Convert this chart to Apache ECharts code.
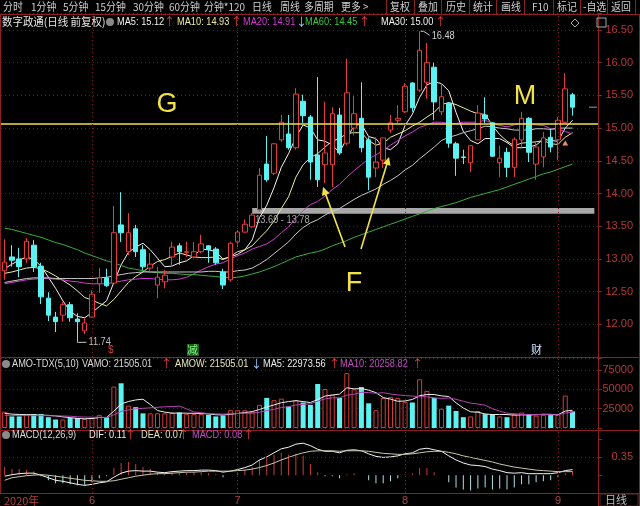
<!DOCTYPE html>
<html><head><meta charset="utf-8">
<script src="https://cdn.jsdelivr.net/npm/echarts@6/dist/echarts.min.js"></script>
<style>html,body{margin:0;padding:0;background:#000;}#c{width:640px;height:506px;}</style>
</head><body><div id="c"></div>
<script>
// ---------- data ----------
const dates = ['2020-05-14','2020-05-15','2020-05-18','2020-05-19','2020-05-20','2020-05-21','2020-05-22','2020-05-25','2020-05-26','2020-05-27','2020-05-28','2020-05-29',
'2020-06-01','2020-06-02','2020-06-03','2020-06-04','2020-06-05','2020-06-08','2020-06-09','2020-06-10','2020-06-11','2020-06-12','2020-06-15','2020-06-16','2020-06-17','2020-06-18','2020-06-19','2020-06-22','2020-06-23','2020-06-24','2020-06-29','2020-06-30',
'2020-07-01','2020-07-02','2020-07-03','2020-07-06','2020-07-07','2020-07-08','2020-07-09','2020-07-10','2020-07-13','2020-07-14','2020-07-15','2020-07-16','2020-07-17','2020-07-20','2020-07-21','2020-07-22','2020-07-23','2020-07-24','2020-07-27','2020-07-28','2020-07-29','2020-07-30','2020-07-31',
'2020-08-03','2020-08-04','2020-08-05','2020-08-06','2020-08-07','2020-08-10','2020-08-11','2020-08-12','2020-08-13','2020-08-14','2020-08-17','2020-08-18','2020-08-19','2020-08-20','2020-08-21','2020-08-24','2020-08-25','2020-08-26','2020-08-27','2020-08-28','2020-08-31',
'2020-09-01','2020-09-02','2020-09-03'];
const padCats = ['p1','p2','p3'];
const opens = [12.82,13.03,13.00,13.00,13.21,12.89,12.40,12.11,12.14,12.30,12.08,11.90,12.11,12.62,12.71,12.63,13.52,13.11,13.46,13.14,12.86,12.60,12.65,13.03,13.20,13.10,13.03,13.11,13.20,13.15,12.80,12.68,13.26,13.41,13.49,13.75,14.45,14.31,14.82,14.91,14.70,15.41,15.17,14.59,14.44,14.44,15.20,14.77,15.00,15.15,14.82,14.39,14.51,14.97,15.12,15.25,15.69,15.58,15.70,15.93,15.25,15.38,14.76,14.56,14.47,14.82,15.20,15.08,14.47,14.63,14.40,14.82,15.15,14.45,14.56,14.86,14.82,15.09,15.51];
const closes = [12.95,12.98,12.88,13.27,12.88,12.42,12.14,12.04,12.30,12.10,12.04,12.02,12.46,12.71,12.59,13.40,13.40,13.40,13.11,12.88,12.92,12.72,12.75,13.18,13.11,13.11,13.11,13.23,13.14,12.94,12.60,13.24,13.41,13.53,13.67,14.28,14.21,14.76,15.09,14.70,15.52,15.19,14.48,14.21,14.62,15.22,14.62,15.54,15.22,14.70,14.25,14.48,14.85,15.08,15.15,15.64,15.31,16.19,16.00,15.40,15.48,14.77,14.54,14.55,14.73,15.23,15.14,14.57,14.54,14.40,14.83,15.15,14.63,14.71,14.85,14.71,15.12,15.60,15.32];
const lows = [12.68,12.88,12.72,12.94,12.80,12.31,12.05,11.88,12.04,12.04,11.74,11.85,12.10,12.48,12.57,12.63,13.26,13.06,13.03,12.83,12.78,12.40,12.55,12.88,12.91,13.03,13.01,13.09,12.94,12.91,12.54,12.65,13.18,13.40,13.47,13.72,14.18,14.28,14.79,14.67,14.67,15.08,14.21,14.10,14.16,14.10,14.59,14.74,14.89,14.63,14.05,14.25,14.39,14.93,15.08,15.23,15.25,15.55,15.45,15.12,15.20,14.70,14.27,14.45,14.33,14.82,15.08,14.56,14.25,14.25,14.25,14.71,14.48,14.21,14.40,14.63,14.51,15.08,15.19];
const highs = [13.30,13.21,13.17,13.32,13.29,12.94,12.49,12.19,12.34,12.34,12.17,12.10,12.52,12.86,12.85,13.81,14.02,13.70,13.52,13.21,13.09,12.88,12.83,13.26,13.24,13.26,13.26,13.37,13.21,13.18,12.85,13.26,13.44,13.60,13.70,14.39,14.88,14.77,15.20,15.20,15.61,15.51,15.20,15.78,15.40,15.32,15.31,16.06,15.49,15.70,14.86,14.86,14.85,15.20,15.35,15.69,15.70,16.48,16.30,16.00,15.69,15.40,14.79,14.67,14.74,15.35,15.47,15.09,14.73,14.70,14.86,15.25,15.17,14.79,14.94,14.99,15.17,15.84,15.54];
const ma5 = [12.85,12.92,12.98,13.03,12.99,12.89,12.72,12.55,12.36,12.20,12.12,12.10,12.18,12.27,12.36,12.64,12.91,13.10,13.18,13.24,13.14,13.01,12.88,12.89,12.94,12.97,13.05,13.15,13.14,13.11,13.00,13.03,13.07,13.14,13.29,13.63,13.82,14.09,14.40,14.61,14.86,15.05,15.00,14.82,14.80,14.74,14.63,14.84,15.04,15.06,14.87,14.84,14.70,14.67,14.76,15.04,15.21,15.47,15.66,15.71,15.68,15.57,15.24,14.95,14.81,14.76,14.84,14.84,14.84,14.78,14.70,14.70,14.71,14.74,14.83,14.81,14.80,15.00,15.12];
const ma10 = [12.78,12.80,12.83,12.86,12.87,12.85,12.80,12.74,12.67,12.60,12.51,12.41,12.37,12.32,12.28,12.38,12.51,12.64,12.73,12.80,12.89,12.96,12.99,13.04,13.09,13.06,13.03,13.02,13.02,13.03,12.99,13.04,13.11,13.14,13.20,13.32,13.43,13.58,13.77,13.95,14.25,14.44,14.55,14.61,14.71,14.80,14.84,14.92,14.93,14.93,14.81,14.74,14.77,14.86,14.91,14.96,15.03,15.09,15.17,15.24,15.36,15.39,15.36,15.31,15.26,15.22,15.21,15.04,14.90,14.80,14.73,14.77,14.78,14.79,14.81,14.76,14.75,14.86,14.93];
const ma20 = [12.62,12.64,12.66,12.68,12.69,12.70,12.70,12.69,12.68,12.66,12.65,12.63,12.62,12.62,12.62,12.64,12.66,12.68,12.69,12.70,12.70,12.69,12.68,12.68,12.69,12.72,12.77,12.83,12.88,12.92,12.94,13.00,13.05,13.09,13.15,13.19,13.23,13.30,13.40,13.49,13.62,13.74,13.83,13.88,13.96,14.06,14.14,14.25,14.35,14.44,14.53,14.59,14.66,14.74,14.81,14.88,14.94,15.01,15.05,15.09,15.09,15.07,15.07,15.09,15.09,15.09,15.12,15.07,15.04,15.02,15.05,15.08,15.07,15.05,15.04,14.99,14.98,14.95,14.91];
const ma30 = [12.64,12.66,12.68,12.70,12.71,12.71,12.71,12.70,12.70,12.70,12.70,12.70,12.70,12.71,12.72,12.74,12.76,12.78,12.79,12.80,12.80,12.80,12.80,12.80,12.80,12.80,12.80,12.80,12.81,12.81,12.80,12.80,12.82,12.83,12.86,12.92,12.99,13.08,13.17,13.26,13.38,13.48,13.55,13.60,13.67,13.73,13.77,13.84,13.91,13.97,14.02,14.07,14.14,14.20,14.27,14.36,14.43,14.53,14.62,14.71,14.81,14.86,14.89,14.93,14.96,14.99,15.03,15.02,15.00,14.99,14.97,14.97,14.97,14.99,14.99,14.98,15.00,15.00,15.00];
const ma60 = [13.47,13.45,13.42,13.39,13.36,13.33,13.29,13.25,13.22,13.18,13.14,13.09,13.05,13.01,12.97,12.94,12.90,12.86,12.84,12.82,12.80,12.79,12.78,12.78,12.77,12.76,12.76,12.75,12.74,12.73,12.72,12.71,12.72,12.74,12.77,12.80,12.84,12.88,12.93,12.98,13.03,13.06,13.09,13.11,13.15,13.20,13.24,13.28,13.33,13.37,13.41,13.45,13.49,13.53,13.57,13.61,13.65,13.69,13.73,13.77,13.80,13.83,13.86,13.90,13.94,13.97,14.00,14.03,14.06,14.10,14.14,14.18,14.22,14.26,14.30,14.33,14.37,14.41,14.45];
const amo = [21000,15000,15000,17000,18000,18000,14000,11000,11000,13000,13000,11500,13000,17000,14000,53600,57900,29000,27000,19000,19000,19000,19000,20000,20000,18000,18000,18000,17000,15000,16000,23000,23000,23000,21000,30000,39000,36000,38000,28000,36000,33000,30000,57000,50500,43000,39000,71000,50000,53000,32000,23000,39000,40000,39000,34000,33000,63000,48000,39000,25000,29000,22000,14000,15000,22000,18000,18000,15000,14000,18000,20000,18000,16000,17000,17500,17000,42000,21505.01];
const amoMa5 = [19000,18000,17500,17300,17200,16600,16400,15600,14400,13400,12400,11900,12300,13500,13700,21800,31100,34300,36300,37300,30400,22600,20600,19200,19400,19200,19000,18800,18200,17200,16800,17800,18800,20000,21200,24000,27200,29800,32800,34200,35400,34200,33000,36800,41300,42700,43900,52100,50700,51200,49000,45800,39400,37400,34600,35000,37000,41800,43400,43400,41600,40800,32600,25800,21000,20400,18200,17400,17600,17400,16600,17000,17000,17200,17800,17700,17100,21900,22973.56];
const amoMa10 = [16500,16300,16100,16000,16000,16000,15900,15800,15600,15300,14500,14150,13950,13950,13550,17100,21500,23300,24900,25500,26100,26850,27450,27750,28350,24800,20800,19700,18700,18300,18000,18400,18800,19100,19200,20400,22500,24300,26400,27700,29700,30700,31400,34800,37750,39050,39050,42550,43750,46250,45850,44850,45750,44050,42900,42000,41400,40600,40400,39000,38300,38900,37200,34600,32200,31000,29500,25000,21700,19200,18500,17600,17200,17400,17600,17150,17050,19450,20258.82];
const dif = [-0.02,0.01,0.03,0.04,0.04,0.00,-0.05,-0.10,-0.12,-0.15,-0.18,-0.20,-0.18,-0.15,-0.13,-0.04,0.04,0.08,0.09,0.08,0.08,0.06,0.05,0.07,0.08,0.09,0.09,0.10,0.10,0.09,0.06,0.08,0.11,0.15,0.20,0.30,0.36,0.44,0.52,0.55,0.61,0.63,0.58,0.51,0.47,0.47,0.44,0.49,0.50,0.48,0.42,0.37,0.35,0.36,0.38,0.42,0.44,0.51,0.53,0.50,0.47,0.38,0.30,0.24,0.20,0.19,0.17,0.12,0.09,0.05,0.04,0.05,0.03,0.03,0.03,0.03,0.05,0.09,0.11];
const dea = [-0.10,-0.05,-0.03,-0.01,0.00,0.01,0.00,-0.02,-0.04,-0.06,-0.08,-0.10,-0.11,-0.12,-0.12,-0.11,-0.08,-0.05,-0.02,0.00,0.02,0.03,0.03,0.04,0.05,0.06,0.06,0.07,0.08,0.08,0.08,0.08,0.09,0.10,0.12,0.15,0.19,0.24,0.30,0.35,0.40,0.44,0.47,0.48,0.48,0.48,0.47,0.48,0.48,0.48,0.47,0.45,0.43,0.42,0.41,0.41,0.42,0.44,0.46,0.47,0.47,0.45,0.42,0.38,0.35,0.32,0.29,0.26,0.22,0.19,0.16,0.14,0.12,0.10,0.09,0.08,0.07,0.07,0.07];
const macd = [0.16,0.12,0.12,0.10,0.08,-0.02,-0.10,-0.16,-0.16,-0.18,-0.20,-0.20,-0.14,-0.06,-0.02,0.14,0.24,0.26,0.22,0.16,0.12,0.06,0.04,0.06,0.06,0.06,0.06,0.06,0.04,0.02,-0.04,0.00,0.04,0.10,0.16,0.30,0.34,0.40,0.44,0.40,0.42,0.38,0.22,0.06,-0.02,-0.02,-0.06,0.02,0.04,0.00,-0.10,-0.16,-0.16,-0.12,-0.06,0.02,0.04,0.14,0.14,0.06,0.00,-0.14,-0.24,-0.28,-0.30,-0.26,-0.24,-0.28,-0.26,-0.28,-0.24,-0.18,-0.18,-0.14,-0.12,-0.10,-0.04,0.04,0.08];
const priceTicks = [12.0,12.5,13.0,13.5,14.0,14.5,15.0,15.5,16.0,16.5];
const amoTicks = [25000,50000,75000];
const macdTicks = [0.35];
const hLine = 15.06;           // yellow level line
const band = [13.69, 13.78];   // gray support band
const bandStartIdx = 34;

// ---------- styles ----------
const RED = '#e63c3c', CYAN = '#5cf2f2', GRID = '#641c1c', AXIS = '#8c2020', LBL = '#b83838';
const NUMF = '"Liberation Sans",Arial,sans-serif';
const CJKF = '"Noto Sans CJK SC",sans-serif';

const cats = dates.concat(padCats);
const monthStart = [];
dates.forEach((d,i)=>{ if(i===0 || d.slice(5,7)!==dates[i-1].slice(5,7)) monthStart.push(i); });
const isUp = i => closes[i] >= opens[i];
const vLines = monthStart.slice(1).map(i=>({xAxis:i, lineStyle:{color:'#6e2020', type:[1,3], width:1}}));

const GL = 1, GR = 42;
const grids = [
  {left:GL, right:GR, top:13.65, height:343.35},
  {left:GL, right:GR, top:358.5, height:69.5},
  {left:GL, right:GR, top:430.7, height:63}
];
function xAx(gi, showLabel){
  return {type:'category', gridIndex:gi, data:cats, boundaryGap:true,
    axisLine:{show:false}, axisTick:{show:false},
    axisLabel:{show:showLabel, interval:0, margin:2, color:'#a84848', fontSize:11, fontFamily:NUMF,
      formatter:(v,i)=>{ if(i===0) return '{f|2020年}'; if(monthStart.indexOf(i)>0) return String(+dates[i].slice(5,7)); return ''; },
      rich:{f:{fontSize:11, color:'#b04040', fontFamily:CJKF, padding:[0,0,0,34]}}},
    splitLine:{show:false}
  };
}
function yAx(gi, min, max, interval, fmt, showSplit){
  return {type:'value', gridIndex:gi, position:'right', min, max, interval, scale:false,
    axisLine:{show:true, lineStyle:{color:AXIS}},
    axisTick:{show:true, length:4, lineStyle:{color:AXIS}},
    axisLabel:{inside:false, margin:35, align:'right', color:LBL, fontSize:11, fontFamily:NUMF, formatter:fmt},
    splitLine:{show:showSplit, lineStyle:{color:GRID, type:[1,3]}}
  };
}
const priceFmt = v => priceTicks.some(t=>Math.abs(t-v)<1e-6) ? v.toFixed(2) : '';
const amoFmt = v => amoTicks.indexOf(v)>=0 ? String(v) : '';
const macdFmt = v => macdTicks.some(t=>Math.abs(t-v)<1e-6) ? v.toFixed(2) : '';

const line = (name, data, color, xi, yi, w) => ({name, type:'line', data, xAxisIndex:xi, yAxisIndex:yi,
  showSymbol:false, symbol:'none', lineStyle:{color, width:w||1}, silent:true, z:3});

const option = {
  backgroundColor:'#000', animation:false,
  grid:grids,
  xAxis:[xAx(0,false), xAx(1,false), xAx(2,true)],
  yAxis:[yAx(0,11.5,16.75,0.5,priceFmt,true), yAx(1,0,90000,25000,amoFmt,true), yAx(2,-0.35,0.875,0.35,macdFmt,false)],
  series:[
    {name:'K', type:'candlestick', xAxisIndex:0, yAxisIndex:0, barWidth:5, z:4,
     data: dates.map((d,i)=>[opens[i],closes[i],lows[i],highs[i]]),
     itemStyle:{color:'#000', color0:CYAN, borderColor:RED, borderColor0:CYAN, borderWidth:1},
     markLine:{silent:true, symbol:'none', label:{show:false}, lineStyle:{color:'#f0e048', width:1.6, type:'solid'},
       data:[{yAxis:hLine}].concat(vLines)},
     markArea:{silent:true, itemStyle:{color:'#a8a8a8'}, label:{show:false},
       data:[[{xAxis:bandStartIdx, yAxis:band[1]},{xAxis:cats.length-1, yAxis:band[0]}]]}
    },
    line('MA5', ma5, '#f4f4f4', 0, 0),
    line('MA10', ma10, '#ecec9c', 0, 0),
    line('MA20', ma20, '#d23cd2', 0, 0),
    line('MA60', ma60, '#3cae3c', 0, 0),
    line('MA30', ma30, '#c8c8c8', 0, 0),
    {name:'AMO', type:'bar', xAxisIndex:1, yAxisIndex:1, barWidth:5,
     data: amo.map((v,i)=>({value:v, itemStyle: isUp(i) ? {color:'#000', borderColor:'#d23c3c', borderWidth:1} : {color:CYAN, borderColor:CYAN, borderWidth:0}})),
     markLine:{silent:true, symbol:'none', label:{show:false}, data:vLines}},
    line('AMO MA5', amoMa5, '#ececec', 1, 1),
    line('AMO MA10', amoMa10, '#b444b4', 1, 1),
    {name:'MACD', type:'bar', xAxisIndex:2, yAxisIndex:2, barWidth:1,
     data: macd.map(v=>({value:v, itemStyle:{color: v>=0 ? '#c83c3c' : '#a8e2e2'}})),
     markLine:{silent:true, symbol:'none', label:{show:false}, data:vLines}},
    line('DIF', dif, '#f4f4f4', 2, 2),
    Object.assign(line('DEA', dea, '#c8c8a8', 2, 2), {markLine:{silent:true, symbol:'none', label:{show:false},
      lineStyle:{color:GRID, type:[1,3], width:1}, data:[{yAxis:macdTicks[0]}]}})
  ]
};
const chart = echarts.init(document.getElementById('c'), null, {width:640, height:506});
chart.setOption(option);

// ---------- decorations / text ----------
const G = [];
const txt = (x,y,text,color,size,font,sx) => G.push({type:'text', x, y, silent:true, z:20, scaleX:sx||1,
  style:{text, fill:color, fontSize:size||11, fontFamily:font||NUMF, textVerticalAlign:'middle', textAlign:'left'}});
const big = (x,y,text,color) => G.push({type:'text', x, y, silent:true, z:20,
  style:{text, fill:color, fontSize:27, fontFamily:'"Liberation Sans",Arial,sans-serif', textVerticalAlign:'middle', textAlign:'center'}});
const ln = (x1,y1,x2,y2,color,w) => G.push({type:'line', silent:true, z:15, shape:{x1,y1,x2,y2}, style:{stroke:color, lineWidth:w||1}});
const NS = 0.84;   // narrow numeric legend text
const CS = 0.9;    // narrow CJK toolbar text

// frame
ln(0,14.5,640,14.5,AXIS); ln(0,357.5,640,357.5,AXIS); ln(0,430.5,640,430.5,AXIS); ln(0,493.5,640,493.5,AXIS);
ln(0.5,14,0.5,494,AXIS); ln(598.5,14,598.5,506,AXIS); ln(639.5,14,639.5,506,AXIS);
// toolbar
const tb = [['分时',3],['1分钟',31],['5分钟',63],['15分钟',95],['30分钟',133],['60分钟',169],['分钟*120',204],['日线',252],['周线',280],['多周期',304],['更多 >',341]];
tb.forEach(([t,x])=>txt(x,7,t,'#cfcfcf',11,CJKF,CS));
const tb2 = [['复权',390],['叠加',418],['历史',446],['统计',473],['画线',501],['F10',532],['标记',557],['-自选',583],['返回',611]];
tb2.forEach(([t,x])=>txt(x,7,t,'#cfcfcf',11,CJKF,CS));
[386,414,441,469,496,524,553,580,607,635].forEach(x=>ln(x+0.5,0,x+0.5,14,AXIS));
// main legend
txt(2,22,'数字政通(日线 前复权)','#e6e6e6',11,CJKF,0.95);
G.push({type:'circle', silent:true, z:20, shape:{cx:110,cy:22,r:4}, style:{fill:'#8a8a8a'}});
const leg = [['MA5: 15.12',117,'#f0f0f0','↑',164,RED],['MA10: 14.93',177,'#ecec9c','↑',231,RED],['MA20: 14.91',243,'#d23cd2','↓',296,'#9ccfff'],
             ['MA60: 14.45',305,'#3cc83c','↑',359,RED],['MA30: 15.00',381,'#f0f0f0','↑',435,RED]];
leg.forEach(([t,x,c,a,ax,ac])=>{txt(x,22,t,c,11,NUMF,NS); txt(ax,22,a,ac,11,CJKF);});
G.push({type:'polygon', silent:true, z:20, shape:{points:[[575,19],[579,23],[575,27],[571,23]]}, style:{fill:'none', stroke:'#aaa'}});
G.push({type:'rect', silent:true, z:20, shape:{x:597,y:18,width:9,height:9}, style:{fill:'none', stroke:'#aaa'}});
// volume legend
G.push({type:'circle', silent:true, z:20, shape:{cx:6,cy:364,r:4}, style:{fill:'#8a8a8a'}});
txt(12,364,'AMO-TDX(5,10)','#dadada',11,NUMF,NS);
txt(82,364,'VAMO: 21505.01','#dadada',11,NUMF,NS); txt(161,364,'↑',RED,11,CJKF);
txt(175,364,'AMOW: 21505.01','#e6e6b4',11,NUMF,NS); txt(251,364,'↓','#9ccfff',11,CJKF);
txt(263,364,'MA5: 22973.56','#ececec',11,NUMF,NS); txt(329,364,'↑',RED,11,CJKF);
txt(340,364,'MA10: 20258.82','#c050c0',11,NUMF,NS); txt(412,364,'↑',RED,11,CJKF);
// macd legend
G.push({type:'circle', silent:true, z:20, shape:{cx:6,cy:435,r:4}, style:{fill:'#8a8a8a'}});
txt(12,435,'MACD(12,26,9)','#dadada',11,NUMF,NS);
txt(89,435,'DIF: 0.11','#ececec',11,NUMF,NS); txt(125,435,'↑',RED,11,CJKF);
txt(141,435,'DEA: 0.07','#e6e6b4',11,NUMF,NS); txt(178,435,'↑',RED,11,CJKF);
txt(192,435,'MACD: 0.08','#c050c0',11,NUMF,NS); txt(243,435,'↑',RED,11,CJKF);
// bottom right
G.push({type:'rect', silent:true, z:20, shape:{x:600,y:494,width:38,height:12}, style:{fill:'none', stroke:'#5a2a2a'}});
txt(605,500,'日线','#bdbdbd',11,CJKF);
// data-anchored labels
const iHi = highs.indexOf(Math.max(...highs)), iLo = lows.indexOf(Math.min(...lows));
const pHi = chart.convertToPixel({gridIndex:0}, [iHi, highs[iHi]]);
const pLo = chart.convertToPixel({gridIndex:0}, [iLo, lows[iLo]]);
G.push({type:'polyline', silent:true, z:20, shape:{points:[[pHi[0]+1,pHi[1]],[pHi[0]+4,pHi[1]],[pHi[0]+10,pHi[1]+4]]}, style:{stroke:'#c8c8c8', fill:'none'}});
txt(pHi[0]+12, pHi[1]+5, highs[iHi].toFixed(2), '#cfcfcf', 11, NUMF, NS);
G.push({type:'polyline', silent:true, z:20, shape:{points:[[pLo[0],pLo[1]],[pLo[0],pLo[1]+1],[pLo[0]+9,pLo[1]+1]]}, style:{stroke:'#c8c8c8', fill:'none'}});
txt(pLo[0]+11, pLo[1]+1, lows[iLo].toFixed(2), '#bdbdbd', 11, NUMF, NS);
const pB = chart.convertToPixel({gridIndex:0}, [bandStartIdx, band[0]]);
txt(pB[0]+3, pB[1]+6, band[0].toFixed(2)+' - '+band[1].toFixed(2), '#a8a8a8', 11, NUMF, NS);
const pLast = chart.convertToPixel({gridIndex:0}, [dates.length-1, closes[closes.length-1]]);
ln(589, pLast[1], 597, pLast[1], '#9a9a9a');
const pT = chart.convertToPixel({gridIndex:0}, [77, 14.78]);
G.push({type:'polygon', silent:true, z:20, shape:{points:[[pT[0]-3,pT[1]+3],[pT[0]+3,pT[1]+3],[pT[0],pT[1]-2]]}, style:{fill:'#f08a6a'}});
// hand annotations
const YEL = '#f2e24a';
big(167,105,'G',YEL); big(525,97,'M',YEL); big(354,284,'F',YEL);
function arrow(t,h){
  const dx=h[0]-t[0], dy=h[1]-t[1], L=Math.hypot(dx,dy), ux=dx/L, uy=dy/L, nx=-uy, ny=ux;
  const bx=h[0]-ux*8, by=h[1]-uy*8;
  G.push({type:'line', silent:true, z:21, shape:{x1:t[0],y1:t[1],x2:h[0]-ux*2,y2:h[1]-uy*2}, style:{stroke:YEL, lineWidth:1.6}});
  G.push({type:'polygon', silent:true, z:21, shape:{points:[h,[bx+nx*4,by+ny*4],[bx-nx*4,by-ny*4]]}, style:{fill:YEL}});
}
arrow([345,247],[323,187]); arrow([361,249],[389,157]);
// event markers
txt(108,350,'$','#e03c3c',10);
G.push({type:'rect', silent:true, z:19, shape:{x:187,y:344,width:12,height:12}, style:{fill:'#1e5a1e'}});
txt(187,350,'减','#7cf07c',11,CJKF);
txt(531,350,'财','#cfe6ff',11,CJKF);

chart.setOption({graphic:G});
</script></body></html>
